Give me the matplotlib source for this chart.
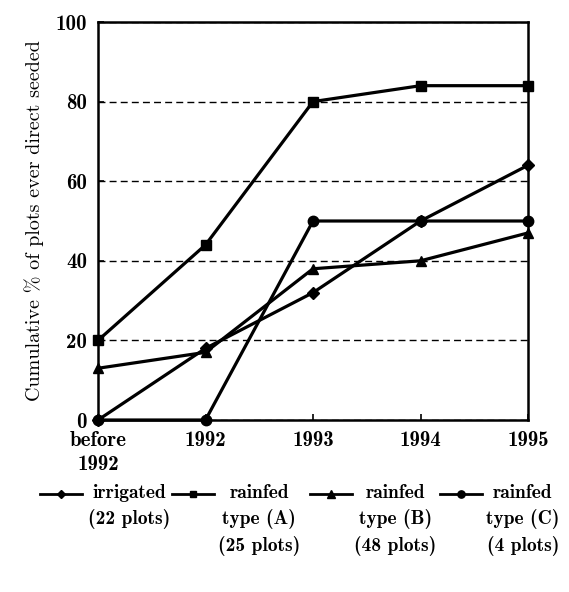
import matplotlib
matplotlib.use("Agg")
import matplotlib.pyplot as plt
from matplotlib.lines import Line2D

anos = ["before\n1992", "1992", "1993", "1994", "1995"]
irrigado = [0, 18, 32, 50, 64]
sequeiro_a = [20, 44, 80, 84, 84]
sequeiro_b = [13, 17, 38, 40, 47]
sequeiro_c = [0, 0, 50, 50, 50]

series = [
    (irrigado, "D", 6, "irrigated\n(22 plots)"),
    (sequeiro_a, "s", 7, "rainfed\ntype (A)\n(25 plots)"),
    (sequeiro_b, "^", 7.5, "rainfed\ntype (B)\n(48 plots)"),
    (sequeiro_c, "o", 7.5, "rainfed\ntype (C)\n(4 plots)"),
]

W, H = 569, 592
fig = plt.figure(figsize=(W / 100, H / 100), dpi=100)
ax = fig.add_axes([98 / W, 1 - 420 / H, (528 - 98) / W, (420 - 22) / H])

x = list(range(len(anos)))
for vals, mk, ms, lab in series:
    ax.plot(x, vals, color="black", lw=2.3, marker=mk, ms=ms, clip_on=False, zorder=3)

ax.set_xlim(0, 4)
ax.set_ylim(0, 100)
ax.set_xticks(x)
ax.set_xticklabels(anos, fontfamily="cmb10", fontsize=15, linespacing=1.3)
ax.set_yticks([0, 20, 40, 60, 80, 100])
ax.set_yticklabels(["0", "20", "40", "60", "80", "100"], fontfamily="cmb10", fontsize=15)
ax.tick_params(direction="in", length=4, width=1.2, pad=8)
ax.yaxis.grid(True, linestyle=(0, (5, 3)), color="black", lw=1.0)
for s in ax.spines.values():
    s.set_linewidth(1.8)
ax.set_ylabel("Cumulative % of plots ever direct seeded",
              fontfamily=["cmr10", "DejaVu Serif"], fontsize=14.5, labelpad=8)

# legenda feita a mao, 4 colunas, marcador na primeira linha
leg_y = 494
itens = [(40, 88), (172, 218), (310, 354), (440, 486)]
for (hx, tx), (vals, mk, ms, lab) in zip(itens, series):
    yy = 1 - leg_y / H
    fig.add_artist(Line2D([hx / W, (hx + 42) / W], [yy, yy], color="black", lw=2.0,
                          transform=fig.transFigure))
    fig.add_artist(Line2D([(hx + 21) / W], [yy], color="black", marker=mk, ms=ms * 0.7,
                          transform=fig.transFigure))
    fig.text(tx / W, yy + 10 / H, lab, fontfamily="cmb10", fontsize=14, ha="left", va="top",
             multialignment="center", linespacing=1.45, transform=fig.transFigure)

fig.savefig("out.png", dpi=100)
